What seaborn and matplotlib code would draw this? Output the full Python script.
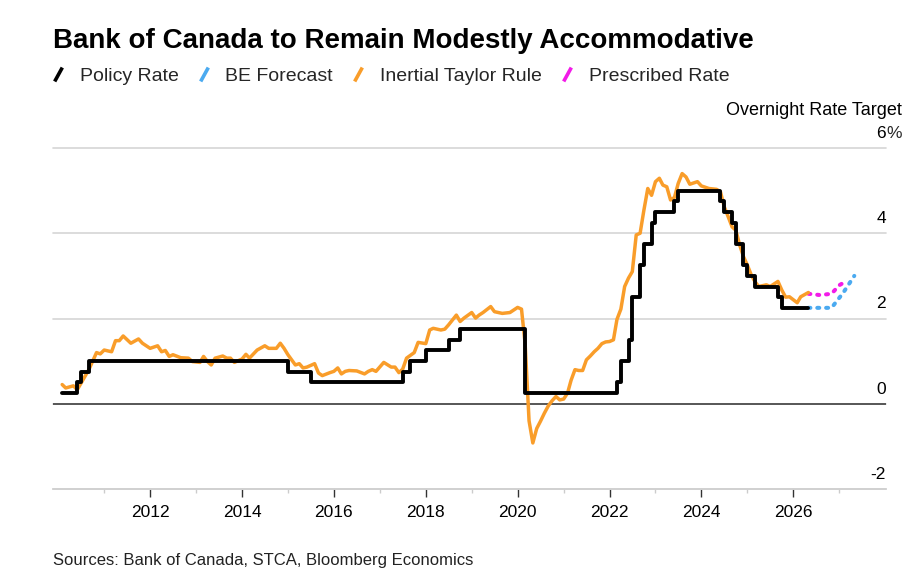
import pandas as pd
import matplotlib
matplotlib.use("Agg")
import matplotlib.pyplot as plt
import matplotlib.transforms as mtransforms
from matplotlib.lines import Line2D
from matplotlib.path import Path
import seaborn as sns

# Policy rate: month of each move and the new level (last entry = end of series)
policy_months = ["2010-02", "2010-06", "2010-07", "2010-09", "2015-01", "2015-07",
                 "2017-07", "2017-09", "2018-01", "2018-07", "2018-10", "2020-03",
                 "2022-03", "2022-04", "2022-06", "2022-07", "2022-09", "2022-10",
                 "2022-12", "2023-01", "2023-06", "2023-07", "2024-06", "2024-07",
                 "2024-09", "2024-10", "2024-12", "2025-01", "2025-03", "2025-09",
                 "2025-10", "2026-05"]
policy_rate = [0.25, 0.5, 0.75, 1.0, 0.75, 0.5,
               0.75, 1.0, 1.25, 1.5, 1.75, 0.25,
               0.5, 1.0, 1.5, 2.5, 3.25, 3.75,
               4.25, 4.5, 4.75, 5.0, 4.75, 4.5,
               4.25, 3.75, 3.25, 3.0, 2.75, 2.5,
               2.25, 2.25]

# Inertial Taylor rule
taylor_months = [
    "2010-02", "2010-03", "2010-05", "2010-06", "2010-08", "2010-09", "2010-11", "2010-12",
    "2011-01", "2011-03", "2011-04", "2011-05", "2011-06", "2011-08", "2011-10", "2011-11",
    "2012-01", "2012-03", "2012-04", "2012-05", "2012-06", "2012-07", "2012-09", "2012-11", "2012-12",
    "2013-02", "2013-03", "2013-04", "2013-05", "2013-06", "2013-08", "2013-09", "2013-10", "2013-11",
    "2014-01", "2014-02", "2014-03", "2014-05", "2014-07", "2014-08", "2014-10", "2014-11", "2014-12",
    "2015-01", "2015-03", "2015-04", "2015-05", "2015-06", "2015-08", "2015-09", "2015-10", "2015-12",
    "2016-01", "2016-02", "2016-03", "2016-04", "2016-05", "2016-07", "2016-09", "2016-10", "2016-11", "2016-12",
    "2017-02", "2017-04", "2017-05", "2017-06", "2017-07", "2017-08", "2017-10", "2017-11",
    "2018-01", "2018-02", "2018-03", "2018-05", "2018-06", "2018-07", "2018-09", "2018-10", "2018-11",
    "2019-01", "2019-02", "2019-03", "2019-04", "2019-06", "2019-07", "2019-09", "2019-11",
    "2020-01", "2020-02", "2020-03", "2020-04", "2020-05", "2020-06", "2020-07", "2020-08",
    "2020-09", "2020-10", "2020-11", "2020-12",
    "2021-01", "2021-02", "2021-03", "2021-04", "2021-05", "2021-06", "2021-07", "2021-08",
    "2021-09", "2021-10", "2021-11", "2021-12",
    "2022-01", "2022-02", "2022-03", "2022-04", "2022-05", "2022-06", "2022-07", "2022-08",
    "2022-09", "2022-10", "2022-11", "2022-12",
    "2023-01", "2023-02", "2023-03", "2023-04", "2023-05", "2023-06", "2023-07", "2023-08",
    "2023-09", "2023-10", "2023-12",
    "2024-01", "2024-03", "2024-05", "2024-06", "2024-07", "2024-08", "2024-09", "2024-10",
    "2024-11", "2024-12",
    "2025-01", "2025-02", "2025-03", "2025-04", "2025-06", "2025-07", "2025-09", "2025-10",
    "2025-11", "2025-12",
    "2026-02", "2026-03", "2026-05",
]
taylor_rate = [
    0.45, 0.37, 0.42, 0.33, 0.64, 0.80, 1.20, 1.17,
    1.26, 1.22, 1.48, 1.48, 1.59, 1.42, 1.52, 1.42,
    1.30, 1.36, 1.22, 1.25, 1.11, 1.15, 1.08, 1.07, 0.99,
    0.97, 1.11, 0.99, 0.91, 1.07, 1.12, 1.07, 1.07, 0.97,
    1.05, 1.16, 1.07, 1.26, 1.36, 1.30, 1.30, 1.42, 1.30,
    1.15, 0.91, 0.94, 0.84, 0.86, 0.94, 0.72, 0.66, 0.73,
    0.76, 0.84, 0.70, 0.76, 0.78, 0.77, 0.70, 0.76, 0.80, 0.76,
    0.97, 0.86, 0.86, 0.73, 0.81, 1.07, 1.20, 1.44,
    1.41, 1.73, 1.77, 1.73, 1.75, 1.85, 2.08, 1.93, 2.01,
    2.14, 2.01, 2.08, 2.14, 2.28, 2.16, 2.12, 2.14,
    2.26, 2.22, 1.40, -0.40, -0.92, -0.58, -0.41, -0.22,
    -0.05, 0.07, 0.17, 0.09,
    0.11, 0.25, 0.55, 0.80, 0.78, 0.78, 1.03, 1.12,
    1.22, 1.30, 1.41, 1.45,
    1.46, 1.50, 1.98, 2.22, 2.75, 2.95, 3.10, 3.96,
    4.00, 4.54, 5.05, 4.89,
    5.21, 5.29, 5.13, 5.09, 4.78, 4.84, 5.17, 5.40,
    5.32, 5.15, 5.21,
    5.11, 5.05, 5.03, 4.97, 4.62, 4.39, 4.15, 4.07,
    3.72, 3.45,
    3.25, 3.02, 2.87, 2.75, 2.79, 2.75, 2.87, 2.67,
    2.50, 2.51,
    2.37, 2.51, 2.61,
]

# Forecast paths
be_months = ["2026-05", "2026-08", "2026-11", "2027-02", "2027-05"]
be_rate = [2.25, 2.25, 2.25, 2.60, 3.00]
prescribed_months = ["2026-05", "2026-08", "2026-11", "2027-01", "2027-03"]
prescribed_rate = [2.58, 2.55, 2.58, 2.78, 2.88]

series_labels = ["Policy Rate", "BE Forecast", "Inertial Taylor Rule", "Prescribed Rate"]
series_colors = ["#000000", "#4BAAF0", "#F99D2A", "#F21BE8"]

ytick_values = [-2, 0, 2, 4, 6]
ytick_labels = ["-2", "0", "2", "4", "6"]
xtick_years = [2012, 2014, 2016, 2018, 2020, 2022, 2024, 2026]
xminor_years = [2011, 2013, 2015, 2017, 2019, 2021, 2023, 2025, 2027]

sns.set_theme(style="white")
plt.rcParams["font.family"] = ["Liberation Sans", "DejaVu Sans"]

W, H = 904, 588
fig = plt.figure(figsize=(W / 100, H / 100), dpi=100)
ax = fig.add_axes([53 / W, 1 - 489 / H, (886 - 53) / W, (489 - 148) / H])

policy = pd.DataFrame({"date": pd.to_datetime(policy_months), "rate": policy_rate})
taylor = pd.DataFrame({"date": pd.to_datetime(taylor_months), "rate": taylor_rate})
be = pd.DataFrame({"date": pd.to_datetime(be_months), "rate": be_rate})
presc = pd.DataFrame({"date": pd.to_datetime(prescribed_months), "rate": prescribed_rate})

dots = (0, (0.5, 1.7))
sns.lineplot(data=be, x="date", y="rate", ax=ax, color=series_colors[1], lw=2.9,
             linestyle=dots, dash_capstyle="round", zorder=3)
sns.lineplot(data=presc, x="date", y="rate", ax=ax, color=series_colors[3], lw=2.9,
             linestyle=dots, dash_capstyle="round", zorder=3)
sns.lineplot(data=taylor, x="date", y="rate", ax=ax, color=series_colors[2], lw=2.5, zorder=4)
sns.lineplot(data=policy, x="date", y="rate", ax=ax, color=series_colors[0], lw=2.8,
             drawstyle="steps-post", zorder=5)

ax.set_xlabel("")
ax.set_ylabel("")
ax.set_ylim(-2, 6)
ax.set_xlim(pd.Timestamp("2009-11-20"), pd.Timestamp("2028-01-08"))

# y grid + labels sitting on top of the lines (Bloomberg style)
ax.set_yticks(ytick_values)
ax.tick_params(axis="y", length=0, labelleft=False, labelright=False)
ax.grid(axis="y", color="#d6d6d6", lw=1.2)
ax.grid(axis="x", visible=False)
for gl in ax.get_ygridlines():
    gl.set_clip_on(False)
ax.axhline(0, color="#4d4d4d", lw=1.3, zorder=2)

lift = mtransforms.ScaledTranslation(0, 0.10, fig.dpi_scale_trans)
ytrans = ax.get_yaxis_transform() + lift
for v, lab in zip(ytick_values, ytick_labels):
    ax.text(1.0, v, lab, transform=ytrans, ha="right", va="baseline", fontsize=12.5, color="#000000")
ax.text(1.0, ytick_values[-1], "%", transform=ytrans, ha="left", va="baseline", fontsize=12.5)

# x axis
ax.set_xticks(pd.to_datetime([f"{y}-01-01" for y in xtick_years]))
ax.set_xticklabels([str(y) for y in xtick_years])
ax.set_xticks(pd.to_datetime([f"{y}-01-01" for y in xminor_years]), minor=True)
ax.tick_params(axis="x", which="major", direction="out", length=5.8, width=1.0,
               color="#333333", pad=5.5, labelsize=12.5, labelcolor="#000000", bottom=True)
ax.tick_params(axis="x", which="minor", direction="out", length=3.2, width=1.0,
               color="#cccccc", bottom=True)
for side in ["top", "right", "left"]:
    ax.spines[side].set_visible(False)
ax.spines["bottom"].set_color("#cfcfcf")
ax.spines["bottom"].set_linewidth(1.2)
ax.spines["bottom"].set_position(("data", -2))

# header, legend, source
fig.text(53 / W, 1 - 48 / H, "Bank of Canada to Remain Modestly Accommodative",
         fontsize=20, fontweight="bold", va="baseline", color="#000000")

slash = Path([(-0.55, -1.0), (0.55, 1.0)])
handles = [Line2D([], [], color=c, marker=slash, ls="none", ms=10, mew=2.6) for c in series_colors]
fig.legend(handles, series_labels, loc="center left", bbox_to_anchor=(50 / W, 1 - 76 / H),
           ncol=4, frameon=False, fontsize=14, handlelength=0.8, handletextpad=0.73,
           columnspacing=0.88, borderpad=0, borderaxespad=0)

fig.text(902 / W, 1 - 115 / H, "Overnight Rate Target", ha="right", va="baseline",
         fontsize=13, color="#000000")
fig.text(53 / W, 1 - 565 / H, "Sources: Bank of Canada, STCA, Bloomberg Economics",
         fontsize=12, va="baseline", color="#222222")

fig.savefig("out.png", dpi=100)
